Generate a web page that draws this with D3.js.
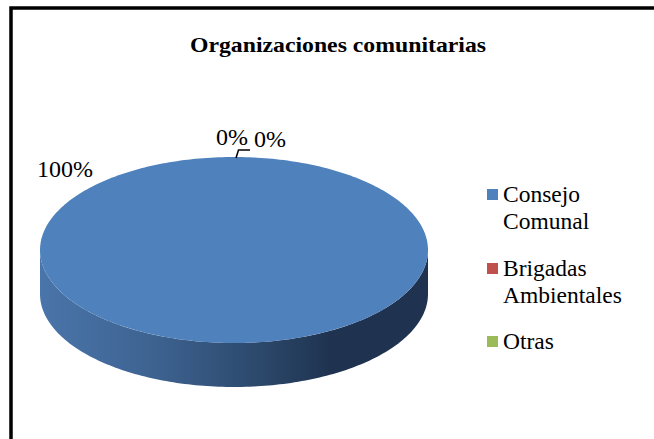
<!DOCTYPE html>
<html>
<head>
<meta charset="utf-8">
<script src="https://cdn.jsdelivr.net/npm/d3@7"></script>
<style>
  html, body { margin: 0; padding: 0; background: #fff; }
  svg { display: block; }
  svg text { font-family: 'Liberation Serif', 'DejaVu Serif', serif; }
</style>
</head>
<body>
<div id="chart"></div>
<script>
// --- Data ---
const categories = ["Consejo Comunal", "Brigadas Ambientales", "Otras"];
const legendLines = [["Consejo", "Comunal"], ["Brigadas", "Ambientales"], ["Otras"]];
const values = [100, 0, 0];
const colors = ["#4f81bd", "#c0504d", "#9bbb59"];
const title = "Organizaciones comunitarias";

const width = 654, height = 439;
const serif = "Liberation Serif, DejaVu Serif, serif";

const svg = d3.select("#chart").append("svg")
    .attr("width", width)
    .attr("height", height);

// frame (runs off right/bottom like the source)
svg.append("rect")
    .attr("x", 11).attr("y", 8)
    .attr("width", 720).attr("height", 520)
    .attr("fill", "#fff")
    .attr("stroke", "#000")
    .attr("stroke-width", 3.5);

svg.append("text")
    .attr("x", 338).attr("y", 52)
    .attr("text-anchor", "middle")
    .attr("font-family", serif)
    .attr("font-size", 22)
    .attr("font-weight", "bold")
    .attr("textLength", 296)
    .attr("lengthAdjust", "spacingAndGlyphs")
    .text(title);

// --- 3D pie geometry ---
const cx = 234, cy = 250, rx = 194, ry = 93, depth = 44;
const pt = (a, dy = 0) => [cx + rx * Math.sin(a), cy - ry * Math.cos(a) + dy];

function sample(a0, a1) {
    const n = Math.max(2, Math.ceil(Math.abs(a1 - a0) / 0.02));
    return d3.range(n + 1).map(i => a0 + (a1 - a0) * i / n);
}

const pie = d3.pie().sort(null).value(d => d)(values);
const line = d3.line();

const defs = svg.append("defs");
const grad = defs.append("linearGradient")
    .attr("id", "side0")
    .attr("gradientUnits", "userSpaceOnUse")
    .attr("x1", cx - rx).attr("x2", cx + rx)
    .attr("y1", 0).attr("y2", 0);
[[0, "#4a75aa"], [0.3, "#3d6290"], [0.55, "#2d4a6d"], [0.75, "#1f3350"], [1, "#1f3350"]]
    .forEach(([o, c]) => grad.append("stop").attr("offset", o).attr("stop-color", c));

const g = svg.append("g");

// sides (front half only)
pie.forEach((d, i) => {
    const s = Math.max(d.startAngle, Math.PI / 2);
    const e = Math.min(d.endAngle, 3 * Math.PI / 2);
    if (e <= s) return;
    const top = sample(s, e).map(a => pt(a));
    const bot = sample(e, s).map(a => pt(a, depth));
    g.append("path")
        .attr("d", line(top.concat(bot)) + "Z")
        .attr("fill", i === 0 ? "url(#side0)" : d3.color(colors[i]).darker(1));
});

// tops
pie.forEach((d, i) => {
    if (d.endAngle - d.startAngle <= 0) return;
    const full = d.endAngle - d.startAngle >= 2 * Math.PI - 1e-6;
    const pts = sample(d.startAngle, d.endAngle).map(a => pt(a));
    const path = full ? line(pts) + "Z" : "M" + cx + "," + cy + line(pts).replace("M", "L") + "Z";
    g.append("path")
        .attr("d", path)
        .attr("fill", colors[i]);
});

// --- Data labels ---
const fmt = v => Math.round(v / d3.sum(values) * 100) + "%";
const labelFont = 24;

// 100% label sits up-left of the pie
svg.append("text")
    .attr("x", cx - rx - 3).attr("y", cy - ry + 20)
    .attr("font-family", serif)
    .attr("font-size", labelFont)
    .text(fmt(values[0]));

// zero slices collapse to the top of the pie
const zeroA = pie[1].startAngle;
const [zx, zy] = pt(zeroA);
svg.append("path")
    .attr("d", line([[zx + 2, zy + 1], [zx + 4.5, zy - 7], [zx + 16, zy - 7]]))
    .attr("fill", "none")
    .attr("stroke", "#000")
    .attr("stroke-width", 1.5);

svg.append("text")
    .attr("x", zx - 18).attr("y", zy - 12)
    .attr("font-family", serif)
    .attr("font-size", labelFont)
    .text(fmt(values[1]));
svg.append("text")
    .attr("x", zx + 20).attr("y", zy - 10)
    .attr("font-family", serif)
    .attr("font-size", labelFont)
    .text(fmt(values[2]));

// --- Legend ---
const legendY = [202, 276, 349];
const legend = svg.append("g");
categories.forEach((c, i) => {
    legend.append("rect")
        .attr("x", 487).attr("y", legendY[i] - 13)
        .attr("width", 11).attr("height", 11)
        .attr("fill", colors[i]);
    legendLines[i].forEach((t, j) => {
        legend.append("text")
            .attr("x", 503).attr("y", legendY[i] + j * 26.5)
            .attr("font-family", serif)
            .attr("font-size", 23.5)
            .text(t);
    });
});
</script>
</body>
</html>
